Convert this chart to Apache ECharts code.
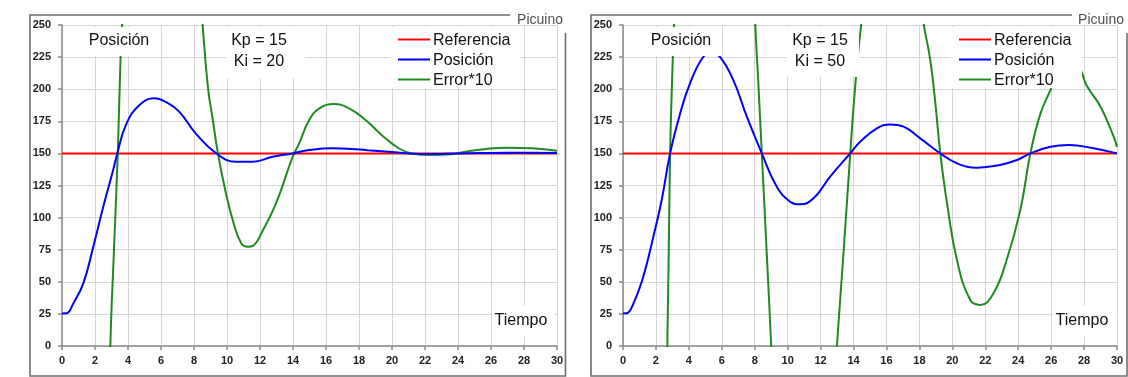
<!DOCTYPE html>
<html>
<head>
<meta charset="utf-8">
<script src="https://cdn.jsdelivr.net/npm/echarts@6/dist/echarts.min.js"></script>
<style>
html,body{margin:0;padding:0;background:#fff;}
#c{width:1128px;height:377px;}
</style>
</head>
<body>
<div id="c"></div>
<script>
// ---- data ----
const refT = [0, 30];
const refV = [150, 150];

// Panel 1: Kp = 15, Ki = 20
const pos20T = [0, 0.28, 0.68, 1.29, 1.89, 2.5, 3.1, 3.35, 3.9, 4.7, 5.6, 6.3, 7.1, 8.1, 9.35, 10.55, 11.56, 12.77, 13.98, 14.98, 16.4, 17.5, 18.5, 19.8, 21, 22.4, 24, 25.5, 27, 28.5, 30];
const pos20V = [25.4, 25.5, 33, 48.8, 77, 108.5, 137, 150, 173, 187.7, 193, 190, 182.5, 165.6, 150, 143.5, 143.5, 147.4, 150, 152.6, 154, 153.5, 152.5, 151.3, 150, 149.6, 150, 150.3, 150.5, 150.5, 150.3];
const err20T = [0, 1, 2, 2.5, 2.93, 3.15, 3.38, 3.55, 3.65, 4.5, 5.5, 6.5, 7.5, 8.5, 8.84, 9.14, 9.45, 9.85, 10.35, 10.86, 11.26, 11.56, 12.17, 12.97, 13.98, 14.38, 14.98, 15.6, 16.5, 17.4, 18.4, 19.4, 20.4, 21.2, 22.4, 23.6, 24.45, 25.7, 26.9, 28.5, 30];
const err20V = [-1100, -900, -550, -260, 0, 75, 150, 225, 252, 500, 570, 520, 420, 254, 202, 176, 150, 124, 98, 80, 77.3, 78, 90, 111, 147.4, 158, 176, 185, 188.5, 185, 176, 164, 154, 150, 148.7, 149.3, 151.3, 153.4, 154.4, 154, 152];

// Panel 2: Kp = 15, Ki = 50
const pos50T = [0, 0.22, 0.63, 1.23, 1.84, 2.35, 2.86, 3.47, 4.07, 4.88, 5.39, 5.9, 6.7, 7.52, 8.43, 9.34, 10.15, 10.76, 11.57, 12.58, 13.8, 14.4, 15.42, 16.23, 17.04, 18.05, 19.27, 20.28, 21.5, 22.9, 23.93, 24.74, 25.96, 27.07, 28.57, 30];
const pos50V = [25.4, 25.5, 33, 54, 85, 113.7, 150, 181, 204.6, 225.3, 228, 225, 207, 178.6, 150, 124, 112.4, 110.3, 115, 131.9, 150, 159, 169.5, 172.6, 170.8, 161.7, 150, 142.3, 138.9, 141, 144.9, 150, 155.2, 156.5, 154, 150];
const err50T = [0, 1, 2, 2.4, 2.69, 2.78, 2.86, 3.0, 3.1, 3.5, 4.5, 5.5, 6.5, 7.5, 8.02, 8.23, 8.43, 8.73, 9.0, 9.5, 10.5, 11.5, 12.5, 12.99, 13.39, 13.8, 14.1, 14.5, 15.5, 16.3, 17.2, 18.22, 18.66, 18.97, 19.27, 19.68, 20.28, 21.09, 21.7, 22.5, 23.3, 24.13, 24.74, 25.35, 25.96, 26.6, 27.2, 27.8, 28.15, 29, 29.8, 30];
const err50V = [-1100, -800, -500, -250, 0, 75, 150, 215, 252, 450, 800, 930, 750, 430, 254, 202, 150, 72, 0, -150, -250, -200, -100, 0, 72, 150, 202, 254, 345, 376, 355, 254, 222.7, 189, 150, 111, 67, 35.8, 32, 41, 67, 106, 150, 181, 199.4, 220, 228, 215, 203, 186.4, 163, 155];

const seriesNames = ['Referencia', 'Posición', 'Error*10'];
const panelTitle = 'Posición';
const kpTexts = ['Kp = 15', 'Kp = 15'];
const kiTexts = ['Ki = 20', 'Ki = 50'];
const xName = 'Tiempo';
const brand = 'Picuino';

// ---- rendering ----
const colors = ['#ff0000', '#0000ff', '#1f8a1f'];
const FONT = '"Liberation Sans", Arial, sans-serif';
const zip = (t, v) => t.map((x, i) => [x, v[i]]);

function axisPair(gi) {
  return {
    x: {
      type: 'value', gridIndex: gi, min: 0, max: 30, interval: 2,
      axisLine: {show: true, lineStyle: {color: '#8a8a8a', width: 1.5}},
      axisTick: {show: true, inside: false, length: 4, lineStyle: {color: '#8a8a8a', width: 1.5}},
      axisLabel: {color: '#222', fontSize: 11, fontWeight: 'bold', fontFamily: FONT, margin: 9},
      splitLine: {show: true, lineStyle: {color: '#d6d6d6', width: 1}}
    },
    y: {
      type: 'value', gridIndex: gi, min: 0, max: 250, interval: 25,
      axisLine: {show: true, onZero: false, lineStyle: {color: '#8a8a8a', width: 1.5}},
      axisTick: {show: true, inside: false, length: 4, lineStyle: {color: '#8a8a8a', width: 1.5}},
      axisLabel: {color: '#222', fontSize: 11, fontWeight: 'bold', fontFamily: FONT, margin: 11},
      splitLine: {show: true, lineStyle: {color: '#d6d6d6', width: 1}}
    }
  };
}
const a0 = axisPair(0), a1 = axisPair(1);

function line(name, data, color, gi, w) {
  return {
    type: 'line', name, data, xAxisIndex: gi, yAxisIndex: gi,
    showSymbol: false, symbol: 'none', smooth: 0.45, clip: true,
    lineStyle: {color, width: w}, animation: false, z: 3
  };
}

const series = [
  line(seriesNames[0], zip(refT, refV), colors[0], 0, 2),
  line(seriesNames[2], zip(err20T, err20V), colors[2], 0, 2),
  line(seriesNames[1], zip(pos20T, pos20V), colors[1], 0, 2),
  line(seriesNames[0], zip(refT, refV), colors[0], 1, 2),
  line(seriesNames[2], zip(err50T, err50V), colors[2], 1, 2),
  line(seriesNames[1], zip(pos50T, pos50V), colors[1], 1, 2)
];

function whiteBox(x, y, w, h) {
  return {type: 'rect', z: 100, shape: {x, y, width: w, height: h}, style: {fill: '#ffffff'}, silent: true};
}
function txt(s, x, y, size, align, color) {
  return {type: 'text', z: 101, x, y, silent: true,
    style: {text: s, fill: color || '#111', font: size + 'px ' + FONT, textAlign: align || 'center', textVerticalAlign: 'middle'}};
}
function seg(x1, y1, x2, y2, color, w) {
  return {type: 'line', z: 101, silent: true, shape: {x1, y1, x2, y2}, style: {stroke: color, lineWidth: w}};
}

function panelGraphics(p) {
  const o = p === 0 ? 0 : 561;
  const fo = p === 0 ? 0 : 561;
  const g = [];
  const L = 30 + fo, R = p === 0 ? 565.5 : 1127, T = 15, B = 376;
  const topEnd = p === 0 ? 510 : 1072;
  g.push({type: 'polyline', z: 90, silent: true,
    shape: {points: [[topEnd, T], [L, T], [L, B], [R, B], [R, 33]]},
    style: {stroke: '#6e6e6e', lineWidth: 1.6, fill: null}});
  g.push(txt(brand, p === 0 ? 540 : 1101, 20, 14, 'center', '#505050'));
  g.push(whiteBox(86 + o, 27, 74 - (p === 0 ? 0 : 1), 29));
  g.push(txt(panelTitle, 119 + o + (p === 0 ? 0 : 1), 41, 16));
  g.push(whiteBox(226 + o, 27, p === 0 ? 79 : 72, p === 0 ? 51 : 50));
  g.push(txt(kpTexts[p], 259 + o, 41, 16));
  g.push(txt(kiTexts[p], 259 + o, 62, 16));
  g.push(whiteBox(390 + o, 27, p === 0 ? 130 : 131, 61));
  for (let i = 0; i < 3; i++) {
    const ly = 39.5 + i * 20;
    g.push(seg(398 + o, ly, 430 + o, ly, colors[i], 2));
    g.push(txt(seriesNames[i], 433 + o, ly + 1, 16, 'left'));
  }
  g.push(whiteBox(492 + o, 306, 63, 30));
  g.push(txt(xName, 521 + o, 321, 16));
  return g;
}

const chart = echarts.init(document.getElementById('c'), null, {renderer: 'canvas'});
chart.setOption({
  backgroundColor: '#ffffff',
  animation: false,
  grid: [
    {left: 62, top: 25, width: 495, height: 321},
    {left: 623, top: 25, width: 494, height: 321}
  ],
  xAxis: [a0.x, a1.x],
  yAxis: [a0.y, a1.y],
  series,
  graphic: panelGraphics(0).concat(panelGraphics(1))
});
</script>
</body>
</html>
